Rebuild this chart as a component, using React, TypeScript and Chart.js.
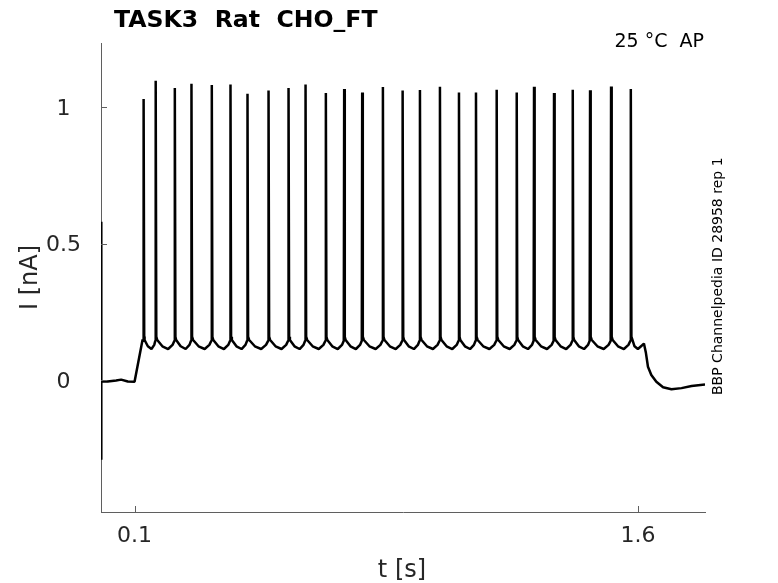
import React, { useEffect, useRef } from "react";
import { Chart, registerables } from "chart.js";

Chart.register(...registerables);

const titleText = "TASK3  Rat  CHO_FT";
const conditionText = "25 °C  AP";
const sideNote = "BBP Channelpedia ID 28958 rep 1";
const xLabel = "t [s]";
const yLabel = "I [nA]";
const xTickValues = [0.1, 1.6];
const yTickValues = [0, 0.5, 1];
const xRange = [0, 1.8];
const yRange = [-0.481, 1.234];

// start of the trace: capacitive transient at t = 0, holding baseline, stimulus onset ramp
const onsetT = [0, 0.0004, 0.0008, 0.0015, 0.02, 0.045, 0.06, 0.08, 0.1, 0.124];
const onsetI = [0, 0.58, -0.29, -0.003, -0.004, 0.0, 0.003, -0.004, -0.005, 0.15];

// action potential times (s) and peak currents (nA)
const spikeTimes = [
  0.127, 0.163, 0.22, 0.2696, 0.3302, 0.3859, 0.4366, 0.4993, 0.5589, 0.6096,
  0.6701, 0.7247, 0.7784, 0.8401, 0.8989, 0.9505, 1.0101, 1.0668, 1.1175, 1.1792,
  1.2389, 1.2905, 1.3501, 1.4059, 1.4575, 1.5201, 1.5789,
];
const spikePeaks = [
  1.029, 1.096, 1.069, 1.085, 1.08, 1.082, 1.048, 1.06, 1.069, 1.082,
  1.051, 1.066, 1.053, 1.073, 1.06, 1.062, 1.074, 1.053, 1.053, 1.063,
  1.053, 1.074, 1.051, 1.063, 1.061, 1.075, 1.066,
];
const preSpikeLevel = 0.145;
const postSpikeLevel = 0.16;
// inter-spike waveform: position within interval, current (nA)
const isiFrac = [0.08, 0.35, 0.65, 0.88];
const isiLevel = [0.148, 0.125, 0.115, 0.13];

// end of the trace: stimulus offset and decay back to baseline
const offsetT = [1.59, 1.6, 1.612, 1.618, 1.624, 1.63, 1.64, 1.655, 1.675, 1.7, 1.73, 1.76, 1.8];
const offsetI = [0.125, 0.115, 0.128, 0.135, 0.1, 0.05, 0.02, -0.005, -0.025, -0.032, -0.028, -0.02, -0.015];

function buildTrace() {
  const pts: { x: number; y: number }[] = [];
  onsetT.forEach((t, i) => pts.push({ x: t, y: onsetI[i] }));
  spikeTimes.forEach((ts, i) => {
    pts.push({ x: ts - 0.0012, y: preSpikeLevel });
    pts.push({ x: ts, y: spikePeaks[i] });
    pts.push({ x: ts + 0.0018, y: postSpikeLevel });
    const next = spikeTimes[i + 1];
    if (next !== undefined) {
      const dt = next - ts;
      isiFrac.forEach((f, k) => pts.push({ x: ts + f * dt, y: isiLevel[k] }));
    }
  });
  offsetT.forEach((t, i) => pts.push({ x: t, y: offsetI[i] }));
  return pts;
}

const FONT = "'DejaVu Sans', 'Liberation Sans', sans-serif";
const AXIS_COLOR = "#5f5f5f";
const TEXT_COLOR = "#262626";

const decorPlugin = {
  id: "decor",
  afterDraw(chart: any) {
    const { ctx, scales } = chart;
    const xs = scales.x;
    const ys = scales.y;
    const area = chart.chartArea;
    ctx.save();
    // inward tick marks
    ctx.strokeStyle = AXIS_COLOR;
    ctx.lineWidth = 1;
    ctx.beginPath();
    xTickValues.forEach((v) => {
      const px = Math.round(xs.getPixelForValue(v)) + 0.5;
      ctx.moveTo(px, area.bottom);
      ctx.lineTo(px, area.bottom - 6);
    });
    yTickValues.forEach((v) => {
      const py = Math.round(ys.getPixelForValue(v)) + 0.5;
      ctx.moveTo(area.left, py);
      ctx.lineTo(area.left + 6, py);
    });
    ctx.stroke();

    // title
    ctx.fillStyle = "#000";
    ctx.font = `bold 23.6px ${FONT}`;
    ctx.textAlign = "left";
    ctx.textBaseline = "alphabetic";
    ctx.fillText(titleText, 114, 27);

    // condition
    ctx.font = `19px ${FONT}`;
    ctx.textAlign = "right";
    ctx.fillText(conditionText, 704, 47);

    // side note
    ctx.save();
    ctx.translate(721.5, 395);
    ctx.rotate(-Math.PI / 2);
    ctx.font = `14px ${FONT}`;
    ctx.textAlign = "left";
    ctx.fillText(sideNote, 0, 0);
    ctx.restore();

    // axis labels
    ctx.fillStyle = TEXT_COLOR;
    ctx.font = `24px ${FONT}`;
    ctx.textAlign = "center";
    ctx.fillText(xLabel, 402, 577);
    ctx.save();
    ctx.translate(37, 277.5);
    ctx.rotate(-Math.PI / 2);
    ctx.fillText(yLabel, 0, 0);
    ctx.restore();

    ctx.restore();
  },
};

export default function App() {
  const ref = useRef<HTMLCanvasElement | null>(null);
  useEffect(() => {
    if (!ref.current) return;
    const chart = new Chart(ref.current, {
      type: "line",
      data: {
        datasets: [
          {
            data: buildTrace(),
            borderColor: "#000",
            borderWidth: 2.5,
            borderJoinStyle: "bevel",
            pointRadius: 0,
            tension: 0,
            fill: false,
          },
        ],
      },
      options: {
        animation: false,
        responsive: false,
        devicePixelRatio: 1,
        parsing: false,
        layout: { padding: { top: 43, right: 73, left: 0, bottom: 0 } },
        plugins: {
          legend: { display: false },
          tooltip: { enabled: false },
          title: { display: false },
        },
        scales: {
          x: {
            type: "linear",
            min: xRange[0],
            max: xRange[1],
            grid: { display: false, drawTicks: false },
            border: { display: true, color: AXIS_COLOR, width: 1 },
            ticks: {
              color: TEXT_COLOR,
              font: { family: FONT, size: 22 },
              padding: 11,
              autoSkip: false,
              maxRotation: 0,
              callback: (v: any) => String(v),
            },
            afterBuildTicks: (s: any) => {
              s.ticks = xTickValues.map((v) => ({ value: v }));
            },
            afterFit: (s: any) => {
              s.height = 71;
            },
          },
          y: {
            type: "linear",
            min: yRange[0],
            max: yRange[1],
            grid: { display: false, drawTicks: false },
            border: { display: true, color: AXIS_COLOR, width: 1 },
            ticks: {
              color: TEXT_COLOR,
              font: { family: FONT, size: 22 },
              padding: 20,
              labelOffset: 2,
              crossAlign: "center",
              autoSkip: false,
              callback: (v: any) => String(v),
            },
            afterBuildTicks: (s: any) => {
              s.ticks = yTickValues.map((v) => ({ value: v }));
            },
            afterFit: (s: any) => {
              s.width = 101;
            },
          },
        },
      },
      plugins: [decorPlugin],
    } as any);
    return () => chart.destroy();
  }, []);
  return (
    <div style={{ position: "fixed", left: 0, top: 0, width: 778, height: 583, background: "#fff" }}>
      <canvas ref={ref} width={778} height={583} style={{ display: "block", width: 778, height: 583 }} />
    </div>
  );
}
